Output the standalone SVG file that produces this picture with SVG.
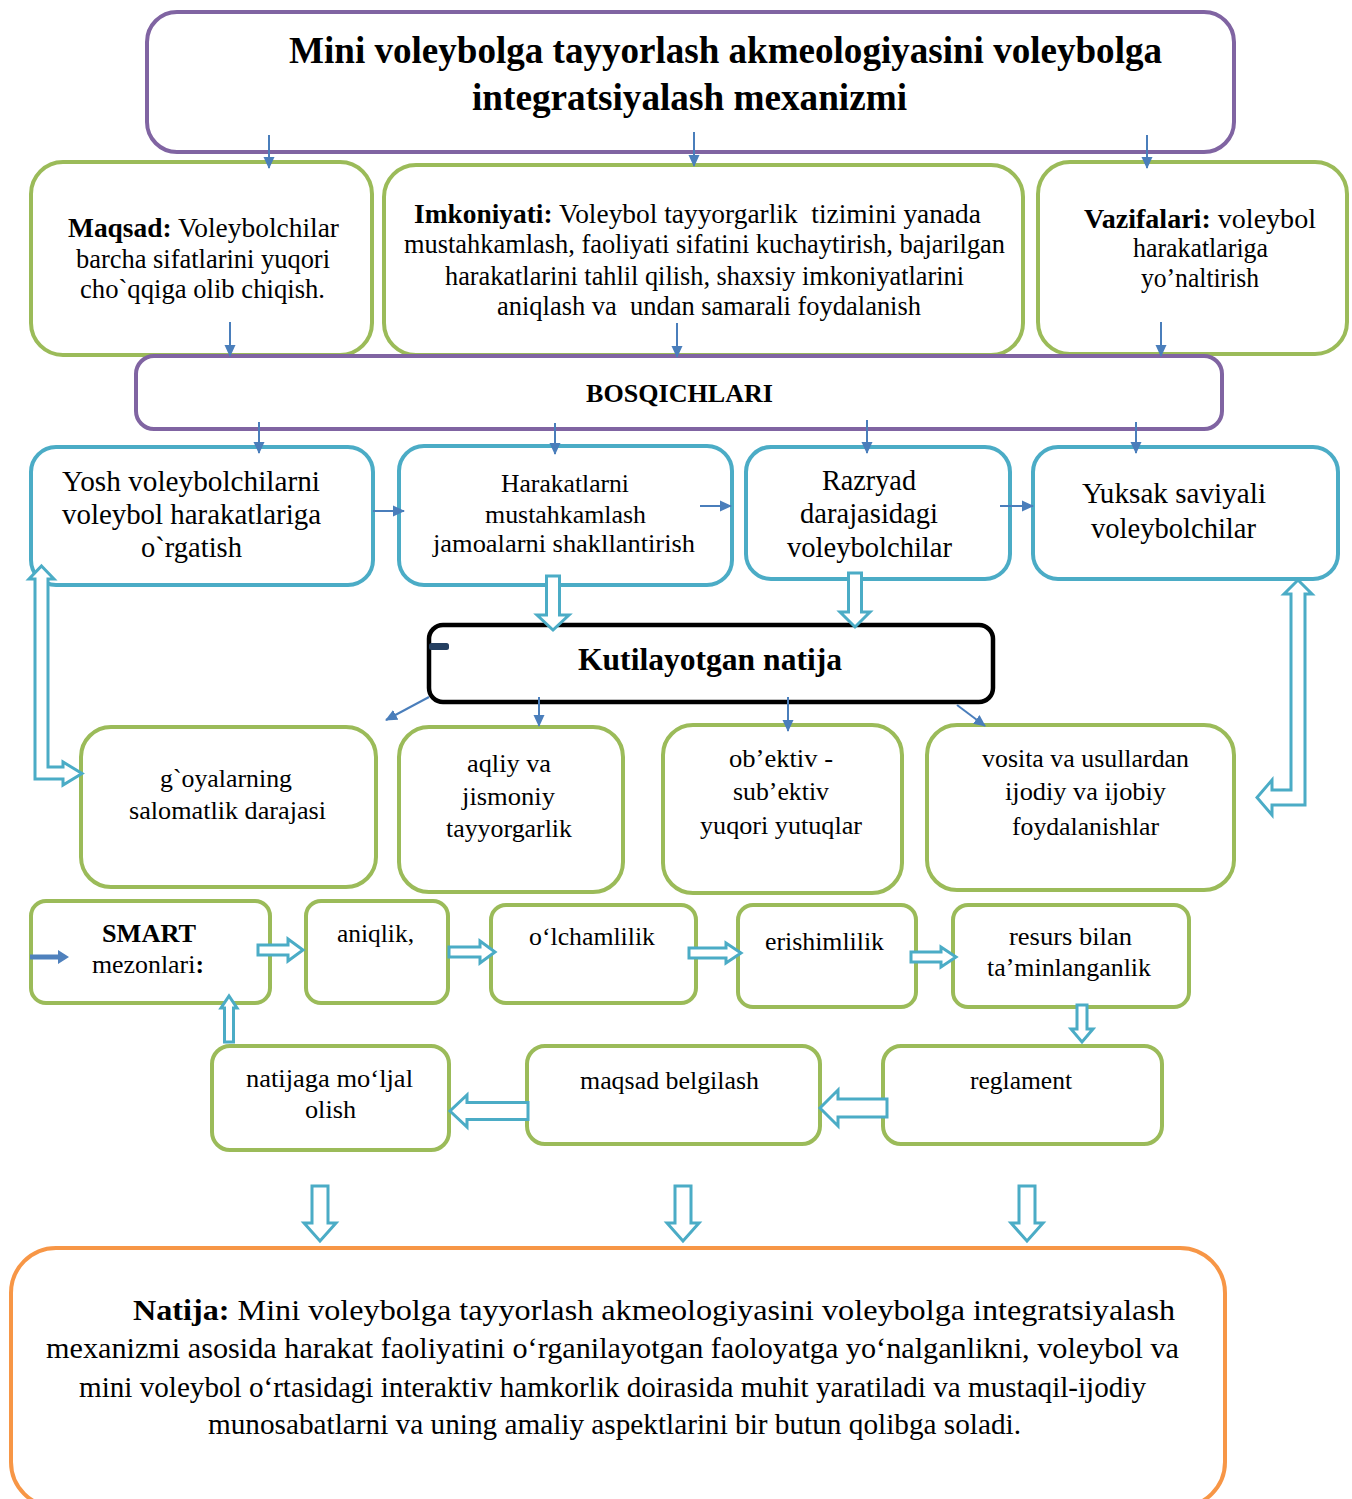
<svg xmlns="http://www.w3.org/2000/svg" width="1352" height="1499" viewBox="0 0 1352 1499">
<defs>
<style>
.g{fill:#fff;stroke:#9BBB59;stroke-width:4}
.p{fill:#fff;stroke:#8064A2;stroke-width:4}
.b{fill:#fff;stroke:#4BACC6;stroke-width:4}
.k{fill:#fff;stroke:#000;stroke-width:4.5}
.o{fill:#fff;stroke:#F79646;stroke-width:4}
text{font-family:"Liberation Serif","Times New Roman",serif;fill:#000}
.bd{font-weight:bold}
.thin{stroke:#4A7EBB;stroke-width:2;fill:none;marker-end:url(#ah)}
.hol{fill:#fff;stroke:#4BACC6;stroke-width:3;stroke-linejoin:miter}
</style>
<marker id="ah" viewBox="0 0 12 12" refX="11" refY="6" markerWidth="12" markerHeight="12" orient="auto" markerUnits="userSpaceOnUse">
<path d="M0,0.5 L12,6 L0,11.5 Z" fill="#4A7EBB"/>
</marker>
</defs>
<rect width="1352" height="1499" fill="#fff"/>

<g id="title">
<rect class="p" x="147" y="12" width="1087" height="140" rx="30"/>
<text class="bd" x="289" y="63" font-size="37" textLength="873" lengthAdjust="spacingAndGlyphs">Mini voleybolga tayyorlash akmeologiyasini voleybolga</text>
<text class="bd" x="472" y="110" font-size="37" textLength="435" lengthAdjust="spacingAndGlyphs">integratsiyalash mexanizmi</text>
</g>

<g id="maqsad">
<rect class="g" x="31" y="162" width="341" height="193" rx="32"/>
<text x="68" y="237" font-size="27" textLength="271" lengthAdjust="spacingAndGlyphs"><tspan class="bd">Maqsad:</tspan> Voleybolchilar</text>
<text x="76" y="268" font-size="27" textLength="254" lengthAdjust="spacingAndGlyphs">barcha sifatlarini yuqori</text>
<text x="80" y="298" font-size="27" textLength="245" lengthAdjust="spacingAndGlyphs">cho`qqiga olib chiqish.</text>
</g>

<g id="imkoniyati">
<rect class="g" x="384" y="165" width="639" height="190" rx="32"/>
<text x="414" y="223" font-size="27" textLength="567" lengthAdjust="spacingAndGlyphs" xml:space="preserve"><tspan class="bd">Imkoniyati:</tspan> Voleybol tayyorgarlik  tizimini yanada</text>
<text x="404" y="253" font-size="27" textLength="601" lengthAdjust="spacingAndGlyphs">mustahkamlash, faoliyati sifatini kuchaytirish, bajarilgan</text>
<text x="445" y="285" font-size="27" textLength="519" lengthAdjust="spacingAndGlyphs">harakatlarini tahlil qilish, shaxsiy imkoniyatlarini</text>
<text x="497" y="315" font-size="27" textLength="424" lengthAdjust="spacingAndGlyphs" xml:space="preserve">aniqlash va  undan samarali foydalanish</text>
</g>

<g id="vazifalari">
<rect class="g" x="1038" y="162" width="309" height="192" rx="32"/>
<text x="1084" y="228" font-size="27" textLength="232" lengthAdjust="spacingAndGlyphs"><tspan class="bd">Vazifalari:</tspan> voleybol</text>
<text x="1133" y="257" font-size="27" textLength="135" lengthAdjust="spacingAndGlyphs">harakatlariga</text>
<text x="1141" y="287" font-size="27" textLength="118" lengthAdjust="spacingAndGlyphs">yo’naltirish</text>
</g>

<g id="bosqichlari">
<rect class="p" x="136" y="356" width="1086" height="73" rx="18"/>
<text class="bd" x="586" y="402" font-size="25" textLength="187" lengthAdjust="spacingAndGlyphs">BOSQICHLARI</text>
</g>

<g id="stage1">
<rect class="b" x="31" y="447" width="342" height="138" rx="25"/>
<text x="62" y="491" font-size="29" textLength="258" lengthAdjust="spacingAndGlyphs">Yosh voleybolchilarni</text>
<text x="62" y="524" font-size="29" textLength="259" lengthAdjust="spacingAndGlyphs">voleybol harakatlariga</text>
<text x="141" y="557" font-size="29" textLength="101" lengthAdjust="spacingAndGlyphs">o`rgatish</text>
</g>

<g id="stage2">
<rect class="b" x="399" y="446" width="333" height="139" rx="25"/>
<text x="501" y="492" font-size="26" textLength="128" lengthAdjust="spacingAndGlyphs">Harakatlarni</text>
<text x="485" y="523" font-size="26" textLength="161" lengthAdjust="spacingAndGlyphs">mustahkamlash</text>
<text x="433" y="552" font-size="26" textLength="262" lengthAdjust="spacingAndGlyphs">jamoalarni shakllantirish</text>
</g>

<g id="stage3">
<rect class="b" x="746" y="447" width="264" height="132" rx="25"/>
<text x="822" y="490" font-size="29" textLength="94" lengthAdjust="spacingAndGlyphs">Razryad</text>
<text x="800" y="523" font-size="29" textLength="138" lengthAdjust="spacingAndGlyphs">darajasidagi</text>
<text x="787" y="557" font-size="29" textLength="165" lengthAdjust="spacingAndGlyphs">voleybolchilar</text>
</g>

<g id="stage4">
<rect class="b" x="1033" y="447" width="305" height="132" rx="25"/>
<text x="1082" y="503" font-size="29" textLength="184" lengthAdjust="spacingAndGlyphs">Yuksak saviyali</text>
<text x="1091" y="538" font-size="29" textLength="165" lengthAdjust="spacingAndGlyphs">voleybolchilar</text>
</g>

<g id="kutilayotgan">
<rect class="k" x="429" y="625" width="564" height="77" rx="14"/>
<rect x="429" y="643" width="20" height="7" rx="2.5" fill="#243F60"/>
<text class="bd" x="578" y="670" font-size="31" textLength="264" lengthAdjust="spacingAndGlyphs">Kutilayotgan natija</text>
</g>

<g id="outcome1">
<rect class="g" x="81" y="727" width="295" height="160" rx="30"/>
<text x="160" y="787" font-size="26" textLength="132" lengthAdjust="spacingAndGlyphs">g`oyalarning</text>
<text x="129" y="819" font-size="26" textLength="197" lengthAdjust="spacingAndGlyphs">salomatlik darajasi</text>
</g>

<g id="outcome2">
<rect class="g" x="399" y="727" width="224" height="165" rx="30"/>
<text x="467" y="772" font-size="26" textLength="84" lengthAdjust="spacingAndGlyphs">aqliy va</text>
<text x="462" y="805" font-size="26" textLength="93" lengthAdjust="spacingAndGlyphs">jismoniy</text>
<text x="446" y="837" font-size="26" textLength="126" lengthAdjust="spacingAndGlyphs">tayyorgarlik</text>
</g>

<g id="outcome3">
<rect class="g" x="663" y="725" width="239" height="168" rx="30"/>
<text x="729" y="767" font-size="26" textLength="104" lengthAdjust="spacingAndGlyphs">ob’ektiv -</text>
<text x="733" y="800" font-size="26" textLength="96" lengthAdjust="spacingAndGlyphs">sub’ektiv</text>
<text x="700" y="834" font-size="26" textLength="162" lengthAdjust="spacingAndGlyphs">yuqori yutuqlar</text>
</g>

<g id="outcome4">
<rect class="g" x="927" y="725" width="307" height="165" rx="30"/>
<text x="982" y="767" font-size="26" textLength="207" lengthAdjust="spacingAndGlyphs">vosita va usullardan</text>
<text x="1005" y="800" font-size="26" textLength="161" lengthAdjust="spacingAndGlyphs">ijodiy va ijobiy</text>
<text x="1012" y="835" font-size="26" textLength="147" lengthAdjust="spacingAndGlyphs">foydalanishlar</text>
</g>

<g id="smart">
<rect class="g" x="31" y="901" width="239" height="102" rx="15"/>
<text class="bd" x="102" y="942" font-size="26" textLength="94" lengthAdjust="spacingAndGlyphs">SMART</text>
<text x="92" y="973" font-size="26" textLength="112" lengthAdjust="spacingAndGlyphs">mezonlari<tspan class="bd">:</tspan></text>
</g>

<g id="aniqlik">
<rect class="g" x="306" y="901" width="142" height="102" rx="15"/>
<text x="337" y="942" font-size="26" textLength="77" lengthAdjust="spacingAndGlyphs">aniqlik,</text>
</g>

<g id="olchamlilik">
<rect class="g" x="491" y="905" width="205" height="98" rx="15"/>
<text x="529" y="945" font-size="26" textLength="126" lengthAdjust="spacingAndGlyphs">o‘lchamlilik</text>
</g>

<g id="erishimlilik">
<rect class="g" x="738" y="905" width="178" height="102" rx="15"/>
<text x="765" y="950" font-size="26" textLength="119" lengthAdjust="spacingAndGlyphs">erishimlilik</text>
</g>

<g id="resurs">
<rect class="g" x="953" y="905" width="236" height="102" rx="15"/>
<text x="1009" y="945" font-size="26" textLength="123" lengthAdjust="spacingAndGlyphs">resurs bilan</text>
<text x="987" y="976" font-size="26" textLength="164" lengthAdjust="spacingAndGlyphs">ta’minlanganlik</text>
</g>

<g id="natijaga">
<rect class="g" x="212" y="1046" width="237" height="104" rx="18"/>
<text x="246" y="1087" font-size="26" textLength="167" lengthAdjust="spacingAndGlyphs">natijaga mo‘ljal</text>
<text x="305" y="1118" font-size="26" textLength="51" lengthAdjust="spacingAndGlyphs">olish</text>
</g>

<g id="maqsad-belgilash">
<rect class="g" x="527" y="1046" width="293" height="98" rx="18"/>
<text x="580" y="1089" font-size="26" textLength="179" lengthAdjust="spacingAndGlyphs">maqsad belgilash</text>
</g>

<g id="reglament">
<rect class="g" x="883" y="1046" width="279" height="98" rx="18"/>
<text x="970" y="1089" font-size="26" textLength="102" lengthAdjust="spacingAndGlyphs">reglament</text>
</g>

<g id="natija">
<rect class="o" x="11" y="1248" width="1214" height="259" rx="45"/>
<text x="133" y="1320" font-size="30" textLength="1042" lengthAdjust="spacingAndGlyphs"><tspan class="bd">Natija:</tspan> Mini voleybolga tayyorlash akmeologiyasini voleybolga integratsiyalash</text>
<text x="46" y="1358" font-size="30" textLength="1133" lengthAdjust="spacingAndGlyphs">mexanizmi asosida harakat faoliyatini o‘rganilayotgan faoloyatga yo‘nalganlikni, voleybol va</text>
<text x="79" y="1397" font-size="30" textLength="1067" lengthAdjust="spacingAndGlyphs">mini voleybol o‘rtasidagi interaktiv hamkorlik doirasida muhit yaratiladi va mustaqil-ijodiy</text>
<text x="208" y="1434" font-size="30" textLength="813" lengthAdjust="spacingAndGlyphs">munosabatlarni va uning amaliy aspektlarini bir butun qolibga soladi.</text>
</g>

<g id="connectors">
<line class="thin" x1="269" y1="135" x2="269" y2="168"/>
<line class="thin" x1="694" y1="132" x2="694" y2="166"/>
<line class="thin" x1="1147" y1="135" x2="1147" y2="168"/>
<line class="thin" x1="230" y1="322" x2="230" y2="356"/>
<line class="thin" x1="677" y1="323" x2="677" y2="357"/>
<line class="thin" x1="1161" y1="322" x2="1161" y2="356"/>
<line class="thin" x1="259" y1="422" x2="259" y2="453"/>
<line class="thin" x1="555" y1="423" x2="555" y2="454"/>
<line class="thin" x1="867" y1="420" x2="867" y2="453"/>
<line class="thin" x1="1136" y1="422" x2="1136" y2="453"/>
<line class="thin" x1="373" y1="511" x2="404" y2="511"/>
<line class="thin" x1="700" y1="506" x2="731" y2="506"/>
<line class="thin" x1="1000" y1="506" x2="1033" y2="506"/>
<line class="thin" x1="429" y1="697" x2="386" y2="720"/>
<line class="thin" x1="539" y1="697" x2="539" y2="726"/>
<line class="thin" x1="788" y1="697" x2="788" y2="731"/>
<line class="thin" x1="957" y1="705" x2="985" y2="726"/>
<path class="hol" d="M546.5,576 L559.5,576 L559.5,615 L569,615 L553,630 L537,615 L546.5,615 Z"/>
<path class="hol" d="M848.5,573 L861.5,573 L861.5,612 L870,612 L855,627 L840,612 L848.5,612 Z"/>
<path class="hol" d="M41.5,566 L54,579 L48,579 L48,767 L63,767 L63,762 L82,773.5 L63,785 L63,779 L35,779 L35,579 L29,579 Z"/>
<path class="hol" d="M1298,580 L1312,594 L1305,594 L1305,805 L1272,805 L1272,815 L1257,797.5 L1272,780 L1272,790 L1291,790 L1291,594 L1284,594 Z"/>
<path d="M30,954.5 L58,954.5 L58,950 L69,957 L58,964 L58,959.5 L30,959.5 Z" fill="#4F81BD"/>
<path class="hol" d="M258,945 L288,945 L288,939 L303,950 L288,961 L288,955 L258,955 Z"/>
<path class="hol" d="M449,947 L480,947 L480,941 L495,952 L480,963 L480,957 L449,957 Z"/>
<path class="hol" d="M689,948 L726,948 L726,943 L741,953 L726,963 L726,958 L689,958 Z"/>
<path class="hol" d="M911,952 L941,952 L941,947 L956,957 L941,967 L941,962 L911,962 Z"/>
<path class="hol" d="M1077,1005 L1087,1005 L1087,1029 L1093,1029 L1082,1042 L1071,1029 L1077,1029 Z"/>
<path class="hol" d="M887,1099 L838,1099 L838,1090 L820,1108 L838,1126 L838,1117 L887,1117 Z"/>
<path class="hol" d="M528,1102.5 L467,1102.5 L467,1095 L450,1111 L467,1127 L467,1119.5 L528,1119.5 Z"/>
<path class="hol" d="M224.5,1042 L224.5,1008 L221,1008 L229,996 L237,1008 L233.5,1008 L233.5,1042 Z"/>
<path class="hol" d="M312,1186 L328,1186 L328,1223 L336,1223 L320,1241 L304,1223 L312,1223 Z"/>
<path class="hol" d="M675,1186 L691,1186 L691,1223 L699,1223 L683,1241 L667,1223 L675,1223 Z"/>
<path class="hol" d="M1019,1186 L1035,1186 L1035,1223 L1043,1223 L1027,1241 L1011,1223 L1019,1223 Z"/>
</g>
</svg>
